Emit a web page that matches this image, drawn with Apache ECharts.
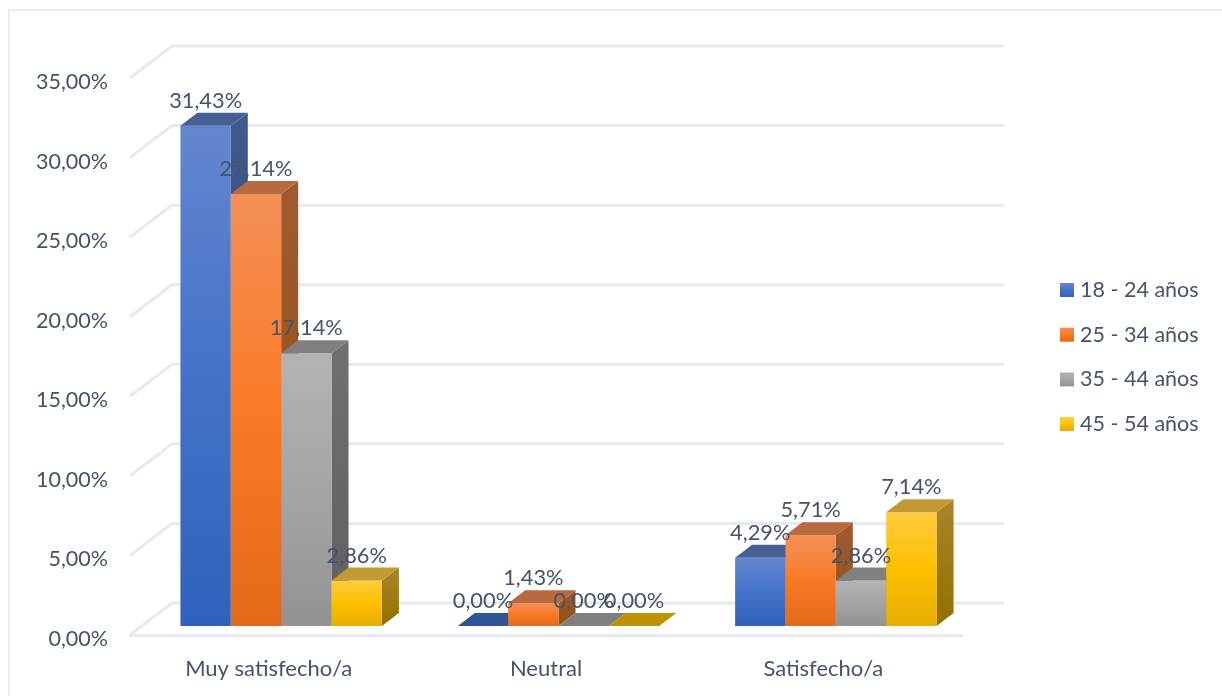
<!DOCTYPE html>
<html><head><meta charset="utf-8">
<style>html,body{margin:0;padding:0;background:#fff}#c{width:1222px;height:696px}</style>
<script src="https://cdn.jsdelivr.net/npm/echarts@6/dist/echarts.min.js"></script>
</head><body><div id="c"></div>
<script>
const categories = ['Muy satisfecho/a', 'Neutral', 'Satisfecho/a'];
const ageGroups = ['18 - 24 años', '25 - 34 años', '35 - 44 años', '45 - 54 años'];
const age18to24 = [31.43, 0, 4.29];
const age25to34 = [27.14, 1.43, 5.71];
const age35to44 = [17.14, 0, 2.86];
const age45to54 = [2.86, 0, 7.14];
const yTicks = [0, 5, 10, 15, 20, 25, 30, 35];

const seriesValues = [age18to24, age25to34, age35to44, age45to54];
const TEXT = '#44546a', FONT = 'Lato', LINE = '#e7eaf0';
const grad = (stops) => new echarts.graphic.LinearGradient(0, 0, 0, 1, stops.map((c, i) => ({offset: i / (stops.length - 1), color: c})));
const palette = [
  {front: ['#6486cf', '#4472c8', '#2f62bb'], top: '#485f92', flat: '#2f5597', side: ['#41598c', '#2a4a80']},
  {front: ['#f58f58', '#f97a26', '#e36a18'], top: '#b86a3e', flat: '#c55a11', side: ['#a05a30', '#93500f']},
  {front: ['#b4b4b4', '#a5a5a5', '#929292'], top: '#808080', flat: '#7f7f7f', side: ['#707070', '#5f5f5f']},
  {front: ['#ffca3e', '#ffc000', '#e6ad00'], top: '#c09a35', flat: '#bf9000', side: ['#aa8428', '#937000']}
];
// Depth of the 3D box, measured from the floor's front edge
const BAR_SHIFT = [12.5, -9], BAR_DEPTH = [17, -13], WALL_SHIFT = [42, -32];
const WIDTH_RATIO = 0.1816;

function renderBar(seriesIdx) {
  return function (params, api) {
    const c = api.value(0), v = api.value(1);
    const base = api.coord([c, 0]), tip = api.coord([c, v]);
    const w = api.size([1, 0])[0] * WIDTH_RATIO;
    const x0 = base[0] + BAR_SHIFT[0] + (seriesIdx - 2) * w, x1 = x0 + w;
    const yb = base[1] + BAR_SHIFT[1], yt = tip[1] + BAR_SHIFT[1];
    const [dx, dy] = BAR_DEPTH, p = palette[seriesIdx];
    const children = [];
    const solid = yb - yt > 0.5;
    if (solid) {
      children.push({type: 'polygon', shape: {points: [[x1, yt], [x1 + dx, yt + dy], [x1 + dx, yb + dy], [x1, yb]]}, style: {fill: grad(p.side)}});
      children.push({type: 'rect', shape: {x: x0, y: yt, width: w, height: yb - yt}, style: {fill: grad(p.front)}});
    }
    children.push({type: 'polygon', shape: {points: [[x0, yt], [x1, yt], [x1 + dx, yt + dy], [x0 + dx, yt + dy]]}, style: {fill: solid ? p.top : p.flat}});
    return {type: 'group', children};
  };
}

function renderWall(params, api) {
  const p = api.coord([0, api.value(0)]);
  const size = api.size([1, 0])[0];
  const x0 = p[0] - size / 2, y = p[1];
  const xr = x0 + size * 3;
  const st = {stroke: LINE, lineWidth: 3, fill: 'none'};
  return {type: 'group', children: [
    {type: 'line', shape: {x1: x0, y1: y, x2: x0 + WALL_SHIFT[0], y2: y + WALL_SHIFT[1]}, style: st},
    {type: 'line', shape: {x1: x0 + WALL_SHIFT[0], y1: y + WALL_SHIFT[1], x2: xr + WALL_SHIFT[0], y2: y + WALL_SHIFT[1]}, style: st}
  ]};
}

function renderLabel(params, api) {
  const sIdx = api.value(0), c = api.value(1), v = api.value(2);
  const tip = api.coord([c, v]);
  const w = api.size([1, 0])[0] * WIDTH_RATIO;
  return {type: 'text', style: {
    x: tip[0] + BAR_SHIFT[0] + (sIdx - 1.5) * w, y: tip[1] + BAR_SHIFT[1] - 25,
    text: v.toFixed(2).replace('.', ',') + '%', fill: TEXT,
    font: '21.8px ' + FONT, align: 'center', verticalAlign: 'middle'}};
}

const labelData = [];
seriesValues.forEach((vals, s) => vals.forEach((v, c) => labelData.push([s, c, v])));

const option = {
  animation: false,
  backgroundColor: '#fff',
  textStyle: {fontFamily: FONT},
  graphic: [{type: 'rect', z: -10, shape: {x: 9, y: 10, width: 1230, height: 720}, style: {fill: 'none', stroke: '#e3e6ed', lineWidth: 1.5}}],
  grid: {left: 130, right: 260, top: 78, bottom: 61},
  legend: {
    orient: 'vertical', left: 1060, top: 279, padding: 0, itemWidth: 14, itemHeight: 14, itemGap: 22.7,
    data: ageGroups, textStyle: {color: TEXT, fontSize: 21.5, fontFamily: FONT, padding: [0, 0, 0, 1]},
    icon: 'rect'
  },
  xAxis: {
    type: 'category', data: categories,
    axisTick: {show: false},
    axisLine: {lineStyle: {color: LINE, width: 3}},
    axisLabel: {color: TEXT, fontSize: 22, margin: 23, fontFamily: FONT}
  },
  yAxis: {
    type: 'value', min: 0, max: 35, interval: 5,
    axisLine: {show: false}, axisTick: {show: false}, splitLine: {show: false},
    axisLabel: {color: TEXT, fontSize: 21.5, margin: 22, fontFamily: FONT, verticalAlign: 'top', lineHeight: 8,
      formatter: v => v.toFixed(2).replace('.', ',') + '%'}
  },
  series: [
    {type: 'custom', name: 'wall', silent: true, z: 1, renderItem: renderWall, data: yTicks.map(t => [t]), encode: {y: 0}, clip: false},
    ...ageGroups.map((name, i) => ({
      type: 'custom', name, z: 2 + i, clip: false,
      itemStyle: {color: grad(palette[i].front)},
      renderItem: renderBar(i),
      data: seriesValues[i].map((v, c) => [c, v]),
      encode: {x: 0, y: 1}
    })),
    {type: 'custom', name: 'labels', silent: true, z: 20, clip: false, renderItem: renderLabel, data: labelData, encode: {x: 1, y: 2}}
  ]
};
echarts.init(document.getElementById('c'), null, {renderer: 'canvas'}).setOption(option);
</script></body></html>
